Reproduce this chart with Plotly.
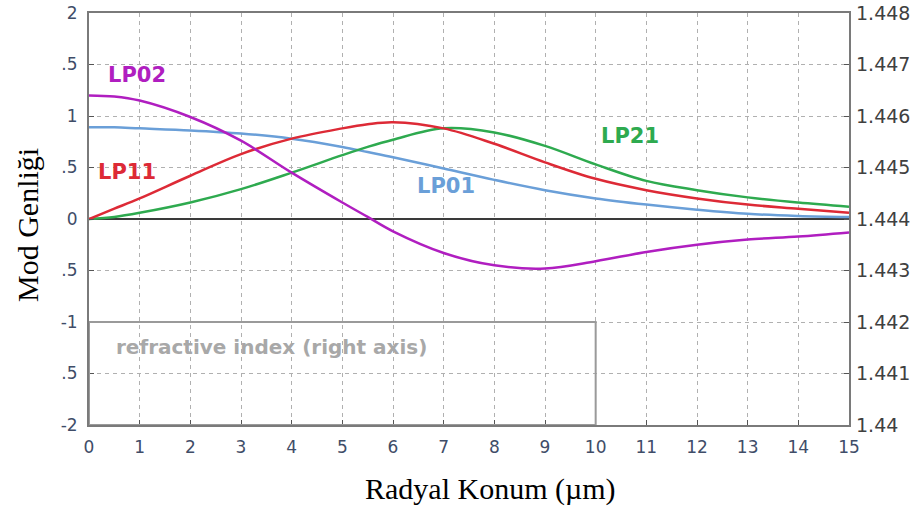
import plotly.graph_objects as go

# ---- data ----
x_pos = [0, 0.5, 1, 2, 3, 4, 5, 5.5, 6, 7, 8, 9, 10, 11, 12, 13, 14, 15]
lp01 = [0.89, 0.89, 0.88, 0.86, 0.83, 0.78, 0.70, 0.65, 0.60, 0.49, 0.38, 0.28, 0.20, 0.14, 0.09, 0.05, 0.03, 0.02]
lp11 = [0.00, 0.10, 0.20, 0.42, 0.63, 0.78, 0.88, 0.92, 0.94, 0.88, 0.73, 0.55, 0.39, 0.28, 0.20, 0.14, 0.10, 0.06]
lp21 = [0.00, 0.02, 0.06, 0.16, 0.29, 0.45, 0.62, 0.70, 0.77, 0.88, 0.84, 0.71, 0.53, 0.37, 0.28, 0.21, 0.16, 0.12]
lp02 = [1.20, 1.19, 1.15, 0.99, 0.76, 0.45, 0.16, 0.02, -0.12, -0.33, -0.45, -0.48, -0.41, -0.32, -0.25, -0.20, -0.17, -0.13]

left_tickvals = [2, 1.5, 1, 0.5, 0, -0.5, -1, -1.5, -2]
left_ticktext = ["2", ".5", "1", ".5", "0", ".5", "-1", ".5", "-2"]
right_tickvals = [1.440, 1.441, 1.442, 1.443, 1.444, 1.445, 1.446, 1.447, 1.448]
right_ticktext = ["1.44", "1.441", "1.442", "1.443", "1.444", "1.445", "1.446", "1.447", "1.448"]
x_ticks = list(range(0, 16))

series = [
    ("LP01", lp01, "#6a9fd8", 7.04, 0.32),
    ("LP21", lp21, "#2eaa4f", 10.67, 0.81),
    ("LP11", lp11, "#dd2a36", 0.75, 0.46),
    ("LP02", lp02, "#b01ec0", 0.95, 1.40),
]

fig = go.Figure()
for name, vals, color, lx, ly in series:
    fig.add_trace(go.Scatter(x=x_pos, y=vals, mode="lines", name=name,
                             line=dict(color=color, width=2.5, shape="spline", smoothing=1.0),
                             showlegend=False, hoverinfo="skip"))
    fig.add_annotation(x=lx, y=ly, xref="x", yref="y", text=f"<b>{name}</b>", showarrow=False,
                       font=dict(family="DejaVu Sans", size=21, color=color))

# invisible trace to anchor right axis
fig.add_trace(go.Scatter(x=[None], y=[None], yaxis="y2", showlegend=False, hoverinfo="skip"))

# refractive index box
fig.add_shape(type="rect", x0=0, x1=10, y0=-2, y1=-1, xref="x", yref="y",
              line=dict(color="#9a9a9a", width=2), fillcolor="rgba(0,0,0,0)")
fig.add_annotation(x=0.5, y=-1.24, xref="x", yref="y", xanchor="left",
                   text="<b>refractive index (right axis)</b>", showarrow=False,
                   font=dict(family="DejaVu Sans", size=20, color="#a8a8a8"))

tickfont_l = dict(family="DejaVu Sans", size=17, color="#3f4d68")
tickfont_r = dict(family="DejaVu Sans", size=19, color="#404040")
grid = dict(showgrid=True, gridcolor="#b0b0b0", griddash="4px,4px", gridwidth=1)

fig.update_layout(
    width=919, height=507,
    margin=dict(l=89, r=70, t=13, b=82, autoexpand=False),
    paper_bgcolor="white", plot_bgcolor="white",
    xaxis=dict(range=[0, 15], tickvals=x_ticks, ticks="inside", ticklen=5, tickcolor="#555",
               showline=True, linecolor="#7a7a7a", linewidth=2, mirror=True, automargin=False,
               zeroline=False, tickfont=tickfont_l, ticklabelstandoff=6, **grid),
    yaxis=dict(range=[-2, 2], tickvals=left_tickvals, ticktext=left_ticktext,
               ticks="inside", ticklen=5, tickcolor="#555", automargin=False,
               showline=True, linecolor="#7a7a7a", linewidth=2, mirror=True,
               zeroline=True, zerolinecolor="#3a3a3a", zerolinewidth=1.6,
               tickfont=tickfont_l, ticklabelstandoff=6, **grid),
    yaxis2=dict(range=[1.440, 1.448], overlaying="y", side="right",
                tickvals=right_tickvals, ticktext=right_ticktext,
                ticks="inside", ticklen=5, tickcolor="#555", automargin=False,
                showgrid=False, zeroline=False, showline=False,
                tickfont=tickfont_r, ticklabelstandoff=6),
)

fig.add_annotation(x=0.528, y=0, xref="paper", yref="paper", yshift=-64,
                   xanchor="center", yanchor="middle",
                   text="Radyal Konum (µm)", showarrow=False,
                   font=dict(family="Liberation Serif", size=30, color="black"))
fig.add_annotation(x=0, y=0.5, xref="paper", yref="paper", xshift=-62, yshift=-6,
                   xanchor="center", yanchor="middle",
                   text="Mod Genliği", showarrow=False, textangle=-90,
                   font=dict(family="Liberation Serif", size=30, color="black"))

fig.write_html("out.html")
